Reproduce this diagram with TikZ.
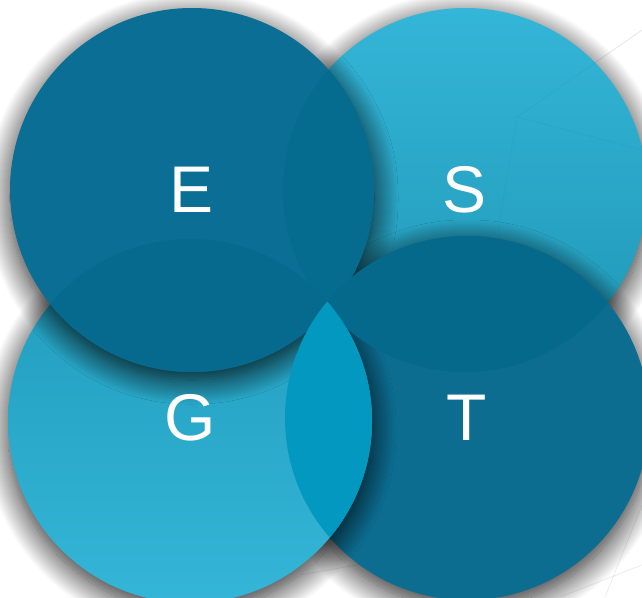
\documentclass[tikz,border=0pt]{standalone}
\usepackage{fontspec}
\setmainfont{Liberation Sans}
\usetikzlibrary{shadows.blur,positioning}
\definecolor{deepblue}{HTML}{0B6E94}
\definecolor{deepteal}{HTML}{0C6D91}
\definecolor{skyblue}{HTML}{22A3C4}
\definecolor{skylight}{HTML}{34B6D8}
\definecolor{lensdark}{HTML}{056C90}
\definecolor{lensbright}{HTML}{0398BF}

\tikzset{
  disc/.style={circle, minimum size=364pt, inner sep=0pt,
    blur shadow={shadow xshift=0pt, shadow yshift=-8pt,
      shadow blur radius=24pt, shadow blur steps=25,
      shadow blur extra rounding=4pt, shadow opacity=85}},
  letter/.style={text=white, font=\fontsize{66}{70}\selectfont},
  faint/.style={black, opacity=0.07, line width=0.8pt}
}

\begin{document}
\begin{tikzpicture}[x=1pt,y=-1pt]
  \useasboundingbox (0,0) rectangle (642,597);

  % background lines
  \coordinate (h1) at (517,117);
  \draw[faint] (642,30) -- (h1) -- (642,150);
  \draw[faint] (h1) -- (498,230);
  \draw[faint] (300,575) -- (430,552);
  \draw[faint] (605,597) -- (642,505);
  \draw[faint] (560,597) -- (642,565);

  % Circles
  \node[disc, top color=skylight, bottom color=skyblue!92!black] (s) at (465,190) {};
  \node[disc, fill=deepteal] (t) at (467,418) {};
  \node[disc, top color=skyblue!95!black, bottom color=skylight] (g) at (190,421) {};
  \node[disc, fill=deepblue] (e) at (192,190) {};

  % Overlaps
  \begin{scope}
    \clip (e.center) circle (182pt);
    \fill[lensdark] (s.center) circle (182pt);
    \fill[lensdark!98!black] (g.center) circle (182pt);
  \end{scope}
  \begin{scope}
    \clip (t.center) circle (182pt);
    \fill[lensdark!97!black] (s.center) circle (182pt);
    \fill[lensbright] (g.center) circle (182pt);
  \end{scope}

  % faint lines on top
  \draw[faint, opacity=0.03] (642,30) -- (h1) -- (642,150);
  \draw[faint, opacity=0.03] (h1) -- (498,230);

  % Labels
  \node[letter] (le) at (e) {E};
  \node[letter] (ls) at (s) {S};
  \node[letter] (lg) at (190,418) {G};
  \node[letter] (lt) at (t) {T};
\end{tikzpicture}
\end{document}
